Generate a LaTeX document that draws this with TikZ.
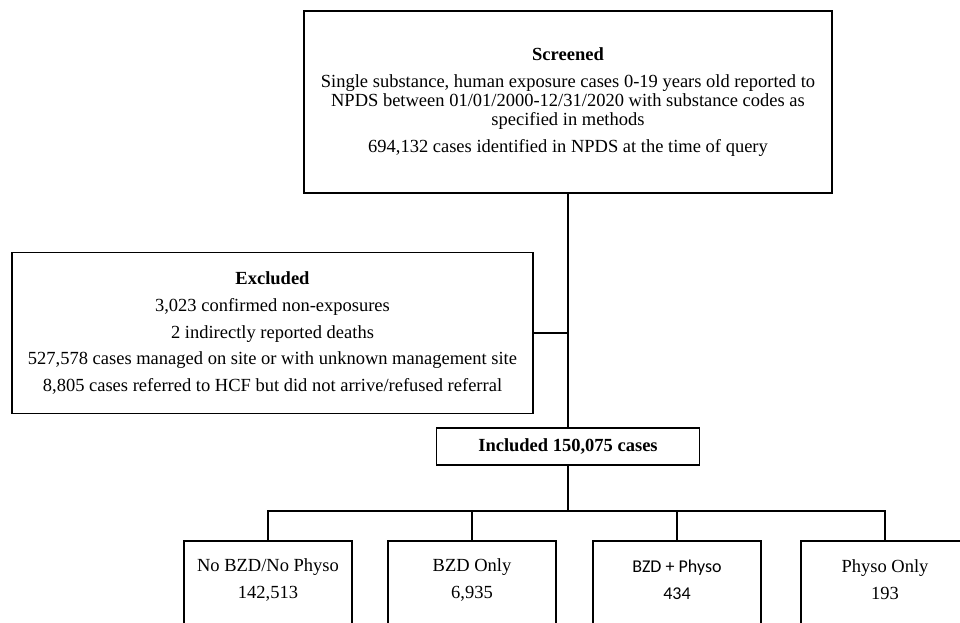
\documentclass[tikz,border=0pt]{standalone}
\usepackage{fontspec}
\setmainfont{Liberation Serif}
\newfontfamily\calibrifont{Carlito}

\begin{document}
\begin{tikzpicture}[
x=1pt, y=-1pt,
every node/.style={font=\fontsize{18.5}{19}\selectfont},
flowbox/.style={rectangle, draw=black, line width=1.8pt, align=center, inner sep=0pt},
leafbox/.style={rectangle, draw=black, line width=1.8pt, minimum width=168pt, minimum height=110pt, anchor=north},
leaftext/.style={align=center, font=\fontsize{18.5}{27}\selectfont},
link/.style={line width=1.8pt},
]
\useasboundingbox (0,0) rectangle (960,622);
\clip (0,0) rectangle (960,622);

%Nodes
\node[flowbox, minimum width=528pt, minimum height=182pt] (screen) at (568,102)
  {\textbf{Screened}\\[8pt]
   Single substance, human exposure cases 0-19 years old reported to\\
   NPDS between 01/01/2000-12/31/2020 with substance codes as\\
   specified in methods\\[8pt]
   694,132 cases identified in NPDS at the time of query};
\node[flowbox, minimum width=521pt, minimum height=161pt,
      font=\fontsize{18.5}{26.7}\selectfont] (excl) at (272.5,333)
  {\textbf{Excluded}\\
   3,023 confirmed non-exposures\\
   2 indirectly reported deaths\\
   527,578 cases managed on site or with unknown management site\\
   8,805 cases referred to HCF but did not arrive/refused referral};
\node[flowbox, minimum width=263pt, minimum height=37pt] (incl) at (568,446.5) {\textbf{Included 150,075 cases}};
\coordinate (split) at (568,511);

\node[leafbox] (none)  at (268,540) {};
\node[leafbox] (bzd)   at (472,540) {};
\node[leafbox] (both)  at (677,540) {};
\node[leafbox] (physo) at (885,540) {};
\node[leaftext] (nonet)  at ([yshift=-39.5pt]none.north)  {No BZD/No Physo\\142,513};
\node[leaftext] (bzdt)   at ([yshift=-39.5pt]bzd.north)   {BZD Only\\6,935};
\node[leaftext, font=\calibrifont\fontsize{18}{27}\selectfont] (botht) at ([yshift=-39.5pt]both.north) {BZD + Physo\\434};
\node[leaftext] (physot) at ([yshift=-39.5pt]physo.north) {Physo Only\\193};

%Lines
\draw[link] (screen.south) -- (incl.north);
\draw[link] (excl.east) -- (excl.east -| screen.south);
\draw[link] (incl.south) -- (split);
\draw[link] (none.north) |- (split) -| (physo.north);
\draw[link] (bzd.north) -- (bzd.north |- split);
\draw[link] (both.north) -- (both.north |- split);

\end{tikzpicture}
\end{document}
